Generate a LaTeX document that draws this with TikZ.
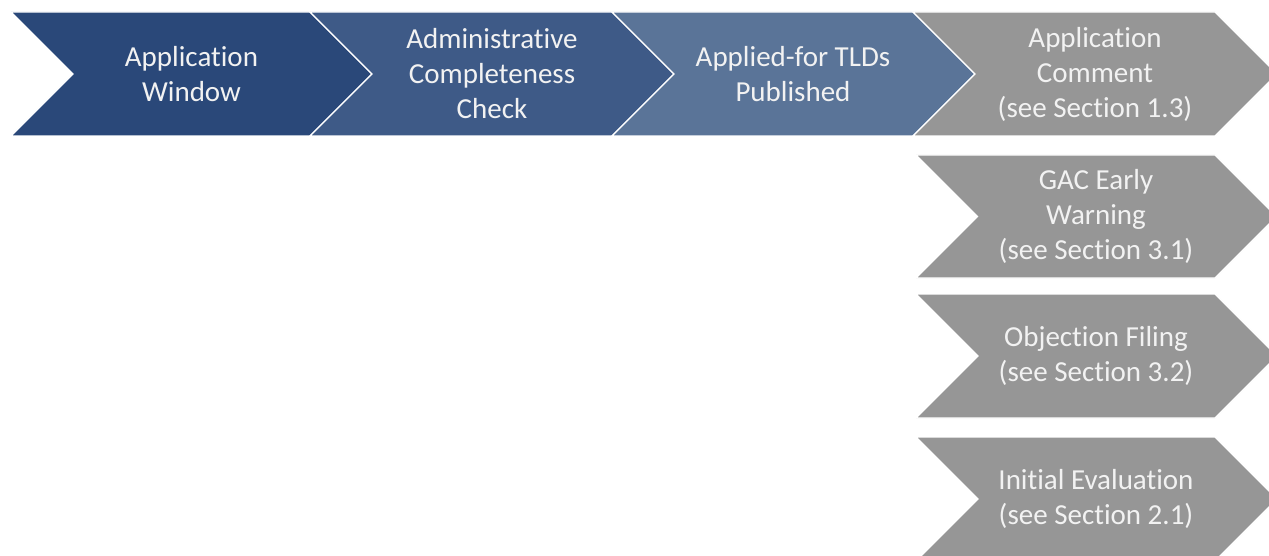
\documentclass[tikz,border=0pt]{standalone}
\usepackage{fontspec}
\setmainfont{Carlito}[Ligatures={NoCommon}]
\definecolor{cone}{HTML}{2A4879}
\definecolor{ctwo}{HTML}{3E5A87}
\definecolor{cthree}{HTML}{5A7498}
\definecolor{cgray}{HTML}{969696}
\definecolor{ctext}{HTML}{F2F2F2}
\begin{document}
\begin{tikzpicture}[x=1pt,y=-1pt,
  chev/.style={draw=white, line width=1.3pt, line join=miter},
  lbl/.style={text=ctext, align=center, inner sep=0pt, font=\fontsize{29}{35}\selectfont}]
\useasboundingbox (0,0) rectangle (1269,556);
\clip (0,0) rectangle (1269,556);
\fill[white] (0,0) rectangle (1269,556);
% top row
\filldraw[chev, fill=cone] (11,12) -- (310,12) -- (372,74) -- (310,136) -- (11,136) -- (73,74) -- cycle;
\filldraw[chev, fill=ctwo] (310,12) -- (612,12) -- (674,74) -- (612,136) -- (310,136) -- (372,74) -- cycle;
\filldraw[chev, fill=cthree] (612,12) -- (913,12) -- (975,74) -- (913,136) -- (612,136) -- (674,74) -- cycle;
\filldraw[chev, fill=cgray] (913,12) -- (1215,12) -- (1277,74) -- (1215,136) -- (913,136) -- (975,74) -- cycle;
% right column
\filldraw[chev, fill=cgray] (916,155) -- (1215,155) -- (1276.5,216.5) -- (1215,278) -- (916,278) -- (977.5,216.5) -- cycle;
\filldraw[chev, fill=cgray] (916,294) -- (1215,294) -- (1277,356) -- (1215,418) -- (916,418) -- (978,356) -- cycle;
\filldraw[chev, fill=cgray] (916,437) -- (1215,437) -- (1277,499) -- (1215,561) -- (916,561) -- (978,499) -- cycle;
% labels
\node[lbl] (t1) at (191.5,74) {Application\\Window};
\node[lbl] (t2) at (492,74) {Administrative\\Completeness\\Check};
\node[lbl] (t3) at (793,74) {Applied-for TLDs\\Published};
\node[lbl] (t4) at (1095,74) {Application\\Comment\\(see Section 1.3)};
\node[lbl] (t5) at (1096,216.5) {GAC Early\\Warning\\(see Section 3.1)};
\node[lbl] (t6) at (1096,356) {Objection Filing\\(see Section 3.2)};
\node[lbl] (t7) at (1096,499) {Initial Evaluation\\(see Section 2.1)};
\end{tikzpicture}
\end{document}
